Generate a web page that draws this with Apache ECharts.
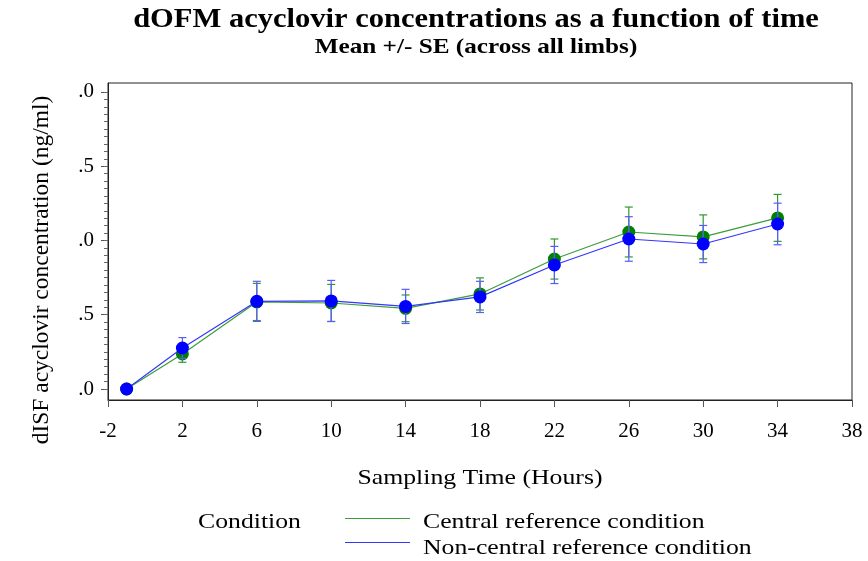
<!DOCTYPE html>
<html>
<head>
<meta charset="utf-8">
<script src="https://cdn.jsdelivr.net/npm/echarts@6/dist/echarts.min.js"></script>
<style>
  html, body { margin: 0; padding: 0; background: #fff; }
  #chart { width: 868px; height: 561px; }
</style>
</head>
<body>
<div id="chart"></div>
<script>
// Sampling times (hours)
const times = [-1, 2, 6, 10, 14, 18, 22, 26, 30, 34];

// Central reference condition: mean and standard error (ng/ml)
const centralMean = [0, 0.236, 0.586, 0.579, 0.543, 0.640, 0.875, 1.057, 1.024, 1.152];
const centralSE   = [0, 0.056, 0.125, 0.125, 0.090, 0.108, 0.135, 0.168, 0.148, 0.158];

// Non-central reference condition: mean and standard error (ng/ml)
const nonCentralMean = [0, 0.276, 0.590, 0.593, 0.556, 0.620, 0.835, 1.010, 0.976, 1.111];
const nonCentralSE   = [0, 0.070, 0.135, 0.138, 0.115, 0.105, 0.125, 0.150, 0.125, 0.140];

// Axis ticks
const xTicks = [-2, 2, 6, 10, 14, 18, 22, 26, 30, 34, 38];
const yTicks = [0, 0.5, 1.0, 1.5, 2.0];
const yMinorStep = 0.05;

const conditionNames = ['Central reference condition', 'Non-central reference condition'];

const serif = 'Liberation Serif';
const WIDE = 1.17; // horizontal stretch applied to the serif captions

const yMinor = [];
for (let v = 0; v <= 2.0001; v += yMinorStep) yMinor.push(+v.toFixed(2));

function pairs(xs, ys) { return xs.map((x, i) => [x, ys[i]]); }
function bars(xs, m, se) { return xs.map((x, i) => [x, m[i] - se[i], m[i] + se[i]]); }

function errorBar(color) {
  return function (params, api) {
    const x = api.value(0);
    const lo = api.coord([x, api.value(1)]);
    const hi = api.coord([x, api.value(2)]);
    if (Math.abs(hi[1] - lo[1]) < 0.5) return null;
    const w = 4;
    const style = { stroke: color, lineWidth: 1.2 };
    return {
      type: 'group',
      children: [
        { type: 'line', shape: { x1: lo[0], y1: lo[1], x2: hi[0], y2: hi[1] }, style },
        { type: 'line', shape: { x1: hi[0] - w, y1: hi[1], x2: hi[0] + w, y2: hi[1] }, style },
        { type: 'line', shape: { x1: lo[0] - w, y1: lo[1], x2: lo[0] + w, y2: lo[1] }, style }
      ]
    };
  };
}

function caption(text, x, y, size, opts) {
  opts = opts || {};
  return {
    type: 'text', x, y,
    scaleX: opts.scaleX || WIDE,
    scaleY: opts.scaleY || 1,
    rotation: opts.rotation || 0,
    style: {
      text, fontFamily: serif, fontSize: size, fill: '#000',
      fontWeight: opts.bold ? 'bold' : 'normal',
      textAlign: opts.align || 'center', textVerticalAlign: 'middle'
    }
  };
}

const GREEN_LINE = '#3a9e3a', GREEN_MARK = '#008000', GREEN_BAR = '#2f9a2f';
const BLUE_LINE = '#3535ff', BLUE_MARK = '#0000ff', BLUE_BAR = '#5a5aff';

const chart = echarts.init(document.getElementById('chart'), null, { renderer: 'canvas' });

chart.setOption({
  animation: false,
  backgroundColor: '#fff',
  grid: { left: 108, right: 16, top: 83, bottom: 161, show: true, borderColor: '#222', borderWidth: 1 },
  xAxis: {
    type: 'value',
    min: -2, max: 38, interval: 4,
    axisLine: { onZero: false, lineStyle: { color: '#222' } },
    axisTick: { show: true, length: 7, lineStyle: { color: '#555' }, customValues: xTicks },
    axisLabel: { fontFamily: serif, fontSize: 21, color: '#000', margin: 21, customValues: xTicks },
    splitLine: { show: false }
  },
  yAxis: [
    {
      type: 'value',
      min: -0.074, max: 2.06,
      axisLine: { show: true, onZero: false, lineStyle: { color: '#222' } },
      axisTick: { show: true, length: 7, lineStyle: { color: '#555' }, customValues: yTicks },
      axisLabel: {
        fontFamily: serif, fontSize: 21, color: '#000', margin: 14,
        customValues: yTicks,
        formatter: v => v.toFixed(1).slice(1)
      },
      splitLine: { show: false }
    },
    {
      type: 'value',
      min: -0.074, max: 2.06,
      position: 'left',
      axisLine: { show: false, onZero: false },
      axisTick: { show: true, length: 4, lineStyle: { color: '#666' }, customValues: yMinor },
      axisLabel: { show: false },
      splitLine: { show: false }
    }
  ],
  graphic: [
    caption('dOFM acyclovir concentrations as a function of time', 476, 20, 28, { bold: true, scaleX: 1.09 }),
    caption('Mean +/- SE (across all limbs)', 476, 48, 21, { bold: true, scaleX: 1.2 }),
    caption('dISF acyclovir concentration (ng/ml)', 42, 270, 23, { rotation: Math.PI / 2, scaleX: 1.02 }),
    caption('Sampling Time (Hours)', 480, 478, 22),
    caption('Condition', 198, 522, 22, { align: 'left' }),
    { type: 'line', shape: { x1: 345, y1: 518.5, x2: 410, y2: 518.5 }, style: { stroke: GREEN_LINE, lineWidth: 1.2 } },
    caption(conditionNames[0], 423, 522, 22, { align: 'left' }),
    { type: 'line', shape: { x1: 345, y1: 542.5, x2: 410, y2: 542.5 }, style: { stroke: BLUE_LINE, lineWidth: 1.2 } },
    caption(conditionNames[1], 423, 548, 22, { align: 'left' })
  ],
  series: [
    {
      name: conditionNames[0],
      type: 'line',
      data: pairs(times, centralMean),
      symbol: 'circle', symbolSize: 13,
      lineStyle: { color: GREEN_LINE, width: 1.2 },
      itemStyle: { color: GREEN_MARK },
      z: 2
    },
    {
      name: 'centralSE',
      type: 'custom',
      data: bars(times, centralMean, centralSE),
      renderItem: errorBar(GREEN_BAR),
      encode: { x: 0, y: [1, 2] },
      z: 3
    },
    {
      name: 'nonCentralSE',
      type: 'custom',
      data: bars(times, nonCentralMean, nonCentralSE),
      renderItem: errorBar(BLUE_BAR),
      encode: { x: 0, y: [1, 2] },
      z: 4
    },
    {
      name: conditionNames[1],
      type: 'line',
      data: pairs(times, nonCentralMean),
      symbol: 'circle', symbolSize: 13,
      lineStyle: { color: BLUE_LINE, width: 1.2 },
      itemStyle: { color: BLUE_MARK },
      z: 5
    }
  ]
});
</script>
</body>
</html>
